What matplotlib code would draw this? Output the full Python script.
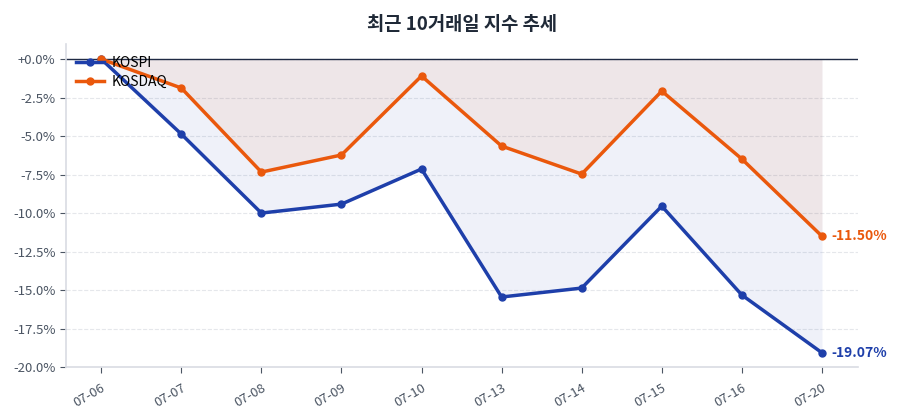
import matplotlib
matplotlib.use("Agg")
import matplotlib.pyplot as plt
from matplotlib.ticker import FuncFormatter

plt.rcParams['font.family'] = ['Noto Sans CJK KR', 'DejaVu Sans']

# data (cumulative % change from first day)
dates = ['07-06', '07-07', '07-08', '07-09', '07-10', '07-13', '07-14', '07-15', '07-16', '07-20']
kospi = [0.0, -4.87, -10.0, -9.42, -7.14, -15.45, -14.87, -9.55, -15.32, -19.07]
kosdaq = [0.0, -1.88, -7.34, -6.23, -1.10, -5.65, -7.47, -2.08, -6.49, -11.50]

blue = '#1e3faa'
orange = '#ea580c'

fig = plt.figure(figsize=(9, 4.2), dpi=100)
ax = fig.add_axes([0.0733, 0.126, 0.88, 0.769])

x = range(len(dates))
ax.fill_between(x, 0, kospi, color=blue, alpha=0.07, linewidth=0)
ax.fill_between(x, 0, kosdaq, color=orange, alpha=0.07, linewidth=0)
ax.plot(x, kospi, color=blue, lw=2.5, marker='o', ms=5, label='KOSPI')
ax.plot(x, kosdaq, color=orange, lw=2.5, marker='o', ms=5, label='KOSDAQ')
ax.axhline(0, color='#1f2a44', lw=1, zorder=1)

ax.annotate(f'{kosdaq[-1]:.2f}%', (x[-1], kosdaq[-1]), xytext=(7, 0), textcoords='offset points',
            va='center', ha='left', color=orange, fontsize=10, fontweight='bold')
ax.annotate(f'{kospi[-1]:.2f}%', (x[-1], kospi[-1]), xytext=(7, 0), textcoords='offset points',
            va='center', ha='left', color=blue, fontsize=10, fontweight='bold')

ax.set_xlim(-0.44, 9.45)
ax.set_ylim(-20, 0.97)
ax.set_yticks([0, -2.5, -5, -7.5, -10, -12.5, -15, -17.5, -20])
ax.yaxis.set_major_formatter(FuncFormatter(lambda v, p: f'{v:+.1f}%' if v >= 0 else f'{v:.1f}%'))
ax.set_xticks(list(x))
ax.set_xticklabels(dates, rotation=30, ha='right', rotation_mode='anchor')
ax.grid(axis='y', linestyle='--', color='#e5e7eb', lw=0.8)
ax.set_axisbelow(True)

for s in ['top', 'right']:
    ax.spines[s].set_visible(False)
for s in ['left', 'bottom']:
    ax.spines[s].set_color('#d9dce3')
    ax.spines[s].set_linewidth(1.2)
ax.tick_params(colors='#4b5563', labelsize=9.5, length=4)
ax.tick_params(axis='x', pad=6)

ax.legend(loc='upper left', frameon=False, fontsize=10, handlelength=2, borderaxespad=0.2,
          labelspacing=0.4, handletextpad=0.6, bbox_to_anchor=(0.002, 0.99))

ax.set_title('최근 10거래일 지수 추세', fontsize=13.5, fontweight='bold', color='#1f2937', pad=10)

plt.savefig('out.png', dpi=100)
